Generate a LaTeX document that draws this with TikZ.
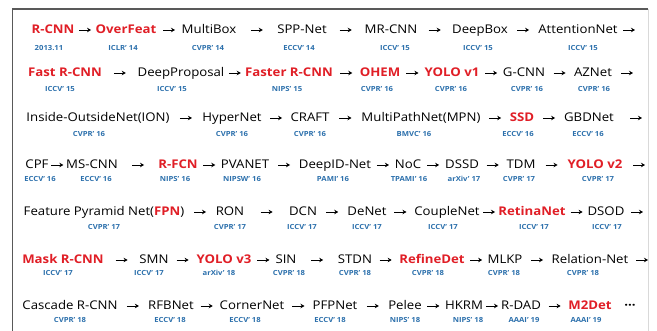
\documentclass[tikz,border=0pt]{standalone}
\usepackage{fontspec}
\setmainfont{Open Sans}[FakeStretch=1.1]
\usetikzlibrary{arrows.meta,calc}
\definecolor{keyred}{RGB}{224,30,38}
\definecolor{venueblue}{RGB}{44,112,172}
\begin{document}
\begin{tikzpicture} [x=1pt, y=-1pt,
    net/.style={inner sep=0pt, text height=9pt, text depth=2.5pt, font=\fontsize{12}{14}\selectfont},
    key/.style={net, text=keyred, font=\fontsize{12}{14}\selectfont\bfseries},
    venue/.style={inner sep=0pt, text=venueblue, font=\fontsize{7}{8}\selectfont\bfseries},
    link/.style={line width=0.9pt, -{Stealth[length=4pt,width=4.5pt]},
      to path={($(\tikztostart.east)!.5!(\tikztotarget.west)$) ++(-6pt,0) -- ++(12pt,0)}},
    tail/.style={line width=0.9pt, -{Stealth[length=4pt,width=4.5pt]},
      to path={($(\tikztotarget)+(-12pt,0)$) -- (\tikztotarget)}}]
    \useasboundingbox (0,0) rectangle (657,331);
    \draw [line width=1.1pt, black!65] (12.5,331) -- (12.5,9) -- (648,9);
    \draw [line width=0.8pt, black!15] (648,9) -- (648,331);

    \path node (rcnn) at (53,30) [key] {R-CNN}
          node (overfeat) at (126,30) [key] {OverFeat}
          node (multibox) at (209,30) [net] {MultiBox}
          node (sppnet) at (302,30) [net] {SPP-Net}
          node (mrcnn) at (391,30) [net] {MR-CNN}
          node (deepbox) at (480,30) [net] {DeepBox}
          node (attention) at (578,30) [net] {AttentionNet}
          coordinate (endone) at (635,30);
    \path node (rcnnpub) at (49,48) [venue] {2013.11}
          node (overfeatpub) at (123,48) [venue] {ICLR' 14}
          node (multiboxpub) at (208,48) [venue] {CVPR' 14}
          node (sppnetpub) at (299,48) [venue] {ECCV' 14}
          node (mrcnnpub) at (395,48) [venue] {ICCV' 15}
          node (deepboxpub) at (478,48) [venue] {ICCV' 15}
          node (attentionpub) at (583,48) [venue] {ICCV' 15};

    \path node (fastrcnn) at (65,73) [key] {Fast R-CNN}
          node (deepprop) at (181,73) [net] {DeepProposal}
          node (fasterrcnn) at (289,73) [key] {Faster R-CNN}
          node (ohem) at (380,73) [key] {OHEM}
          node (yoloone) at (452,73) [key] {YOLO v1}
          node (gcnn) at (524,73) [net] {G-CNN}
          node (aznet) at (593,73) [net] {AZNet}
          coordinate (endtwo) at (633,73);
    \path node (fastrcnnpub) at (60,89) [venue] {ICCV' 15}
          node (deepproppub) at (172,89) [venue] {ICCV' 15}
          node (fasterrcnnpub) at (287,89) [venue] {NIPS' 15}
          node (ohempub) at (377,89) [venue] {CVPR' 16}
          node (yoloonepub) at (451,89) [venue] {CVPR' 16}
          node (gcnnpub) at (527,89) [venue] {CVPR' 16}
          node (aznetpub) at (594,89) [venue] {CVPR' 16};

    \path node (ion) at (98,118) [net] {Inside-OutsideNet(ION)}
          node (hypernet) at (232,118) [net] {HyperNet}
          node (craft) at (310,118) [net] {CRAFT}
          node (mpn) at (421,118) [net] {MultiPathNet(MPN)}
          node (ssd) at (522,118) [key] {SSD}
          node (gbdnet) at (589,118) [net] {GBDNet}
          coordinate (endthree) at (642,118);
    \path node (ionpub) at (89,134) [venue] {CVPR' 16}
          node (hypernetpub) at (232,134) [venue] {CVPR' 16}
          node (craftpub) at (310,134) [venue] {CVPR' 16}
          node (mpnpub) at (414,134) [venue] {BMVC' 16}
          node (ssdpub) at (518,134) [venue] {ECCV' 16}
          node (gbdnetpub) at (588,134) [venue] {ECCV' 16};

    \path node (cpf) at (37,165) [net] {CPF}
          node (mscnn) at (92,165) [net] {MS-CNN}
          node (rfcn) at (178,165) [key] {R-FCN}
          node (pvanet) at (245,165) [net] {PVANET}
          node (deepid) at (335,165) [net] {DeepID-Net}
          node (noc) at (408,165) [net] {NoC}
          node (dssd) at (462,165) [net] {DSSD}
          node (tdm) at (521,165) [net] {TDM}
          node (yolotwo) at (595,165) [key] {YOLO v2}
          coordinate (endfour) at (645,165);
    \path node (cpfpub) at (40,179) [venue] {ECCV' 16}
          node (mscnnpub) at (96,179) [venue] {ECCV' 16}
          node (rfcnpub) at (175,179) [venue] {NIPS' 16}
          node (pvanetpub) at (242,179) [venue] {NIPSW' 16}
          node (deepidpub) at (333,179) [venue] {PAMI' 16}
          node (nocpub) at (409,179) [venue] {TPAMI' 16}
          node (dssdpub) at (464,179) [venue] {arXiv' 17}
          node (tdmpub) at (519,179) [venue] {CVPR' 17}
          node (yolotwopub) at (598,179) [venue] {CVPR' 17};

    \path node (fpn) at (104,212) [net] {Feature Pyramid Net(\textcolor{keyred}{\bfseries FPN})}
          node (ron) at (230,212) [net] {RON}
          node (dcn) at (303,212) [net] {DCN}
          node (denet) at (367,212) [net] {DeNet}
          node (couplenet) at (447,212) [net] {CoupleNet}
          node (retinanet) at (532,212) [key] {RetinaNet}
          node (dsod) at (606,212) [net] {DSOD}
          coordinate (endfive) at (643,212);
    \path node (fpnpub) at (104,227) [venue] {CVPR' 17}
          node (ronpub) at (230,227) [venue] {CVPR' 17}
          node (dcnpub) at (302,227) [venue] {ICCV' 17}
          node (denetpub) at (367,227) [venue] {ICCV' 17}
          node (couplenetpub) at (443,227) [venue] {ICCV' 17}
          node (retinanetpub) at (534,227) [venue] {ICCV' 17}
          node (dsodpub) at (607,227) [venue] {ICCV' 17};

    \path node (maskrcnn) at (63,260) [key] {Mask R-CNN}
          node (smn) at (154,260) [net] {SMN}
          node (yolothree) at (224,260) [key] {YOLO v3}
          node (sin) at (286,260) [net] {SIN}
          node (stdn) at (355,260) [net] {STDN}
          node (refinedet) at (432,260) [key] {RefineDet}
          node (mlkp) at (505,260) [net] {MLKP}
          node (relation) at (590,260) [net] {Relation-Net}
          coordinate (endsix) at (648,260);
    \path node (maskrcnnpub) at (58,273) [venue] {ICCV' 17}
          node (smnpub) at (149,273) [venue] {ICCV' 17}
          node (yolothreepub) at (219,273) [venue] {arXiv' 18}
          node (sinpub) at (289,273) [venue] {CVPR' 18}
          node (stdnpub) at (355,273) [venue] {CVPR' 18}
          node (refinedetpub) at (428,273) [venue] {CVPR' 18}
          node (mlkppub) at (504,273) [venue] {CVPR' 18}
          node (relationpub) at (583,273) [venue] {CVPR' 18};

    \path node (cascade) at (70,306) [net] {Cascade R-CNN}
          node (rfbnet) at (171,306) [net] {RFBNet}
          node (cornernet) at (252,306) [net] {CornerNet}
          node (pfpnet) at (335,306) [net] {PFPNet}
          node (pelee) at (405,306) [net] {Pelee}
          node (hkrm) at (464,306) [net] {HKRM}
          node (rdad) at (521,306) [net] {R-DAD}
          node (mtwodet) at (590,306) [key] {M2Det}
          node (more) at (630,306) [net] {\bfseries ···};
    \path node (cascadepub) at (70,320) [venue] {CVPR' 18}
          node (rfbnetpub) at (170,320) [venue] {ECCV' 18}
          node (cornernetpub) at (245,320) [venue] {ECCV' 18}
          node (pfpnetpub) at (330,320) [venue] {ECCV' 18}
          node (peleepub) at (405,320) [venue] {NIPS' 18}
          node (hkrmpub) at (468,320) [venue] {NIPS' 18}
          node (rdadpub) at (524,320) [venue] {AAAI' 19}
          node (mtwodetpub) at (586,320) [venue] {AAAI' 19};

    \draw [link] (rcnn) to (overfeat);
    \draw [link] (overfeat) to (multibox);
    \draw [link] (multibox) to (sppnet);
    \draw [link] (sppnet) to (mrcnn);
    \draw [link] (mrcnn) to (deepbox);
    \draw [link] (deepbox) to (attention);
    \draw [tail] (attention) to (endone);
    \draw [link] (fastrcnn) to (deepprop);
    \draw [link] (deepprop) to (fasterrcnn);
    \draw [link] (fasterrcnn) to (ohem);
    \draw [link] (ohem) to (yoloone);
    \draw [link] (yoloone) to (gcnn);
    \draw [link] (gcnn) to (aznet);
    \draw [tail] (aznet) to (endtwo);
    \draw [link] (ion) to (hypernet);
    \draw [link] (hypernet) to (craft);
    \draw [link] (craft) to (mpn);
    \draw [link] (mpn) to (ssd);
    \draw [link] (ssd) to (gbdnet);
    \draw [tail] (gbdnet) to (endthree);
    \draw [link] (cpf) to (mscnn);
    \draw [link] (mscnn) to (rfcn);
    \draw [link] (rfcn) to (pvanet);
    \draw [link] (pvanet) to (deepid);
    \draw [link] (deepid) to (noc);
    \draw [link] (noc) to (dssd);
    \draw [link] (dssd) to (tdm);
    \draw [link] (tdm) to (yolotwo);
    \draw [tail] (yolotwo) to (endfour);
    \draw [link] (fpn) to (ron);
    \draw [link] (ron) to (dcn);
    \draw [link] (dcn) to (denet);
    \draw [link] (denet) to (couplenet);
    \draw [link] (couplenet) to (retinanet);
    \draw [link] (retinanet) to (dsod);
    \draw [tail] (dsod) to (endfive);
    \draw [link] (maskrcnn) to (smn);
    \draw [link] (smn) to (yolothree);
    \draw [link] (yolothree) to (sin);
    \draw [link] (sin) to (stdn);
    \draw [link] (stdn) to (refinedet);
    \draw [link] (refinedet) to (mlkp);
    \draw [link] (mlkp) to (relation);
    \draw [tail] (relation) to (endsix);
    \draw [link] (cascade) to (rfbnet);
    \draw [link] (rfbnet) to (cornernet);
    \draw [link] (cornernet) to (pfpnet);
    \draw [link] (pfpnet) to (pelee);
    \draw [link] (pelee) to (hkrm);
    \draw [link] (hkrm) to (rdad);
    \draw [link] (rdad) to (mtwodet);
\end{tikzpicture}
\end{document}
